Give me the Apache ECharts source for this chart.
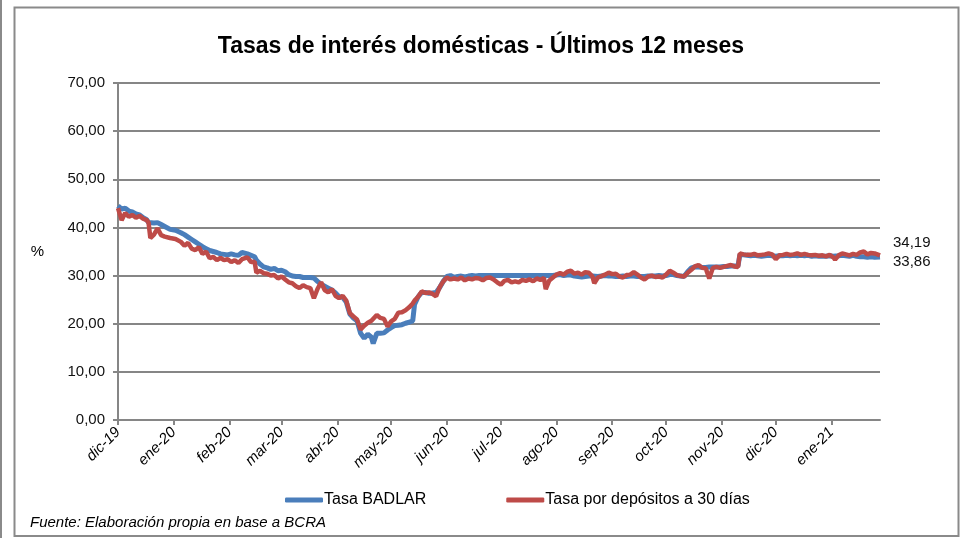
<!DOCTYPE html>
<html>
<head>
<meta charset="utf-8">
<script src="https://cdn.jsdelivr.net/npm/echarts@6/dist/echarts.min.js"></script>
<style>
  html, body { margin: 0; padding: 0; background: #fff; }
  #chart { width: 962px; height: 538px; }
</style>
</head>
<body>
<div id="chart"></div>
<script>
// dias desde 01/12/2019
var days = [0, 2, 4, 6, 8, 10, 12, 14, 16, 17, 18, 20, 22, 24, 26, 29, 32, 35, 37, 39,
  41, 43, 45, 47, 49, 51, 53, 55, 57, 59, 61, 63, 65, 67, 69, 70, 72, 74, 76, 77,
  79, 81, 83, 85, 87, 89, 91, 93, 95, 97, 99, 101, 103, 105, 107, 109, 111, 113, 115, 117,
  119, 121, 123, 125, 127, 129, 131, 133, 135, 137, 139, 141, 142, 144, 146, 148, 150, 152, 154, 156,
  158, 160, 162, 164, 165, 167, 169, 171, 173, 175, 177, 179, 181, 183, 185, 187, 189, 191, 193, 195,
  197, 199, 201, 203, 205, 207, 209, 211, 213, 215, 217, 219, 221, 223, 225, 227, 229, 231, 233, 235,
  237, 238, 240, 242, 244, 246, 248, 250, 252, 254, 256, 258, 260, 262, 264, 265, 267, 269, 271, 273,
  275, 277, 279, 281, 283, 285, 287, 289, 291, 293, 295, 297, 299, 301, 303, 305, 307, 309, 311, 313,
  315, 317, 319, 321, 323, 325, 327, 329, 331, 333, 335, 337, 339, 341, 343, 345, 346, 348, 350, 352,
  354, 356, 358, 360, 362, 364, 366, 368, 370, 372, 374, 376, 378, 380, 382, 384, 386, 388, 390, 392,
  394, 396, 398, 399, 401, 403, 405, 407, 409, 411, 413, 415, 417, 419, 421, 424];

var badlar = [44.5, 43.8, 44.0, 43.4, 43.2, 42.8, 42.6, 42.0, 41.6, 41.0, 40.8, 40.9, 41.0, 40.6, 40.2, 39.6, 39.4, 38.9, 38.5, 38.0,
  37.5, 37.0, 36.5, 36.0, 35.6, 35.2, 35.0, 34.8, 34.5, 34.4, 34.3, 34.5, 34.3, 34.2, 34.8, 35.2, 34.5, 34.2, 33.9, 33.2,
  32.4, 31.8, 31.6, 31.3, 31.5, 31.0, 31.1, 30.8, 30.2, 29.9, 29.8, 29.8, 29.6, 29.6, 29.6, 29.5, 28.8, 28.2, 27.8, 27.4,
  27.0, 26.4, 25.6, 25.5, 24.5, 22.0, 21.2, 20.6, 18.0, 17.0, 17.8, 17.2, 15.9, 18.0, 18.0, 18.1, 18.7, 19.2, 19.6, 19.7,
  19.8, 20.1, 20.3, 20.6, 24.0, 25.6, 26.5, 26.5, 26.3, 26.4, 26.5, 27.5, 28.8, 29.8, 30.0, 29.6, 29.8, 29.9, 29.7, 29.9,
  30.0, 29.9, 30.0, 30.0, 30.0, 30.0, 30.0, 30.0, 30.0, 30.0, 30.0, 30.0, 30.0, 30.0, 30.0, 30.0, 30.0, 30.0, 30.0, 30.0,
  30.0, 30.0, 30.0, 30.0, 30.1, 30.2, 30.0, 30.1, 30.1, 29.9, 29.8, 29.7, 29.8, 29.9, 29.9, 29.8, 29.8, 29.9, 30.0, 29.9,
  29.9, 29.8, 29.8, 29.9, 29.8, 29.9, 29.9, 29.8, 29.8, 29.8, 29.9, 29.9, 29.9, 30.0, 29.9, 30.0, 30.2, 30.2, 30.0, 29.9,
  29.8, 30.8, 31.6, 31.8, 31.8, 31.7, 31.7, 31.8, 31.8, 31.8, 31.8, 31.9, 31.9, 32.0, 32.0, 32.0, 34.3, 34.3, 34.2, 34.1,
  34.2, 34.1, 34.0, 34.1, 34.2, 34.1, 34.0, 34.1, 34.1, 34.2, 34.1, 34.2, 34.1, 34.2, 34.1, 34.2, 34.0, 34.1, 34.0, 34.0,
  34.0, 34.1, 34.0, 34.0, 34.1, 34.2, 34.1, 34.0, 34.2, 34.0, 33.9, 33.9, 33.8, 33.9, 33.8, 33.86];

var depositos30 = [44.0, 41.5, 43.0, 42.2, 42.6, 42.0, 42.4, 41.8, 41.5, 41.0, 37.8, 38.5, 39.8, 38.4, 38.1, 37.8, 37.6, 37.0, 36.2, 36.8,
  35.6, 35.3, 35.9, 34.5, 35.0, 33.6, 33.9, 33.2, 33.7, 33.2, 33.4, 32.8, 33.2, 32.6, 33.4, 33.0, 33.8, 32.8, 32.9, 30.6,
  31.0, 30.5, 30.4, 30.0, 30.1, 29.4, 29.8, 29.2, 28.6, 28.4, 27.8, 27.4, 28.0, 27.6, 27.4, 25.3, 27.2, 28.6, 27.0, 26.5,
  27.2, 25.8, 25.3, 25.8, 24.8, 22.2, 21.5, 20.9, 18.8, 19.6, 20.2, 20.6, 20.9, 21.8, 21.2, 21.0, 19.4, 20.5, 21.0, 22.3,
  22.4, 22.8, 23.4, 24.2, 24.8, 25.6, 26.7, 26.4, 26.5, 26.2, 25.7, 27.6, 28.8, 29.6, 29.2, 29.4, 29.2, 29.6, 29.0, 29.4,
  29.2, 29.5, 29.4, 29.0, 29.5, 29.6, 29.2, 28.6, 28.1, 28.9, 29.1, 28.6, 28.8, 28.6, 29.1, 28.9, 29.2, 28.8, 29.4, 29.1,
  29.5, 27.2, 29.0, 29.6, 30.2, 30.5, 30.2, 30.8, 31.0, 30.4, 30.6, 30.2, 30.7, 30.6, 29.8, 28.4, 29.6, 29.9, 30.2, 30.6,
  30.3, 30.4, 29.8, 29.6, 30.1, 30.2, 30.7, 30.2, 29.6, 29.2, 29.8, 30.0, 29.7, 29.8, 29.6, 30.2, 31.0, 30.6, 30.1, 29.9,
  29.8, 30.6, 31.2, 31.9, 32.2, 31.6, 31.5, 29.4, 31.6, 31.8, 31.6, 31.8, 32.0, 32.2, 31.9, 31.8, 34.6, 34.4, 34.3, 34.3,
  34.5, 34.2, 34.3, 34.4, 34.6, 34.4, 33.4, 34.2, 34.3, 34.5, 34.3, 34.4, 34.6, 34.3, 34.5, 34.3, 34.2, 34.3, 34.1, 34.2,
  34.0, 34.3, 33.8, 33.3, 34.2, 34.6, 34.4, 34.2, 34.5, 34.3, 34.8, 35.0, 34.4, 34.7, 34.6, 34.19];

// inicio de cada mes y su etiqueta
var monthDays = [0, 31, 62, 91, 122, 152, 183, 213, 244, 275, 305, 336, 366, 397];
var monthLabels = ['dic-19', 'ene-20', 'feb-20', 'mar-20', 'abr-20', 'may-20', 'jun-20',
  'jul-20', 'ago-20', 'sep-20', 'oct-20', 'nov-20', 'dic-20', 'ene-21'];

var sans = "'Liberation Sans', Arial, sans-serif";
var fmt = function (v) { return v.toFixed(2).replace('.', ','); };

var chart = echarts.init(document.getElementById('chart'));

var option = {
  backgroundColor: '#fff',
  animation: false,
  title: {
    text: 'Tasas de interés domésticas - Últimos 12 meses',
    left: 'center',
    top: 30,
    textStyle: { fontFamily: sans, fontSize: 23, fontWeight: 'bold', color: '#000' }
  },
  legend: {
    left: 280,
    top: 487,
    itemGap: 80,
    itemWidth: 38,
    itemHeight: 5,
    icon: 'roundRect',
    textStyle: { fontFamily: sans, fontSize: 16, color: '#000', padding: [0, 0, 0, -4] },
    data: ['Tasa BADLAR', 'Tasa por depósitos a 30 días']
  },
  grid: { left: 118, top: 83, right: 82, bottom: 118 },
  xAxis: {
    type: 'value',
    min: 0,
    max: 424,
    splitLine: { show: false },
    axisLine: { lineStyle: { color: '#868686', width: 2 } },
    axisTick: { show: true, customValues: monthDays, length: 5, lineStyle: { color: '#868686', width: 2 } },
    axisLabel: {
      customValues: monthDays,
      rotate: 45,
      margin: 10,
      fontFamily: sans,
      fontStyle: 'italic',
      fontSize: 15,
      color: '#000',
      formatter: function (v) { return monthLabels[monthDays.indexOf(Math.round(v))] || ''; }
    }
  },
  yAxis: {
    type: 'value',
    min: 0,
    max: 70,
    interval: 10,
    name: '%',
    nameLocation: 'middle',
    nameRotate: 0,
    nameGap: 74,
    nameTextStyle: { fontFamily: sans, fontSize: 15, color: '#000' },
    axisLine: { show: true, lineStyle: { color: '#868686', width: 2 } },
    axisTick: { show: true, length: 5, lineStyle: { color: '#868686', width: 2 } },
    splitLine: { lineStyle: { color: '#868686', width: 2 } },
    axisLabel: {
      fontFamily: sans,
      fontSize: 15,
      color: '#111',
      margin: 13,
      formatter: fmt
    }
  },
  series: [
    {
      name: 'Tasa BADLAR',
      type: 'line',
      showSymbol: false,
      color: '#4a7ebb',
      lineStyle: { width: 5, color: '#4a7ebb' },
      data: days.map(function (d, i) { return [d, badlar[i]]; }),
      endLabel: {
        show: true,
        distance: 13,
        offset: [0, 5],
        fontFamily: sans,
        fontSize: 15,
        color: '#111',
        formatter: function (p) { return fmt(p.value[1]); }
      }
    },
    {
      name: 'Tasa por depósitos a 30 días',
      type: 'line',
      showSymbol: false,
      color: '#be4b48',
      lineStyle: { width: 4.5, color: '#be4b48' },
      data: days.map(function (d, i) { return [d, depositos30[i]]; }),
      endLabel: {
        show: true,
        distance: 13,
        offset: [0, -13],
        fontFamily: sans,
        fontSize: 15,
        color: '#111',
        formatter: function (p) { return fmt(p.value[1]); }
      }
    }
  ],
  graphic: [
    {
      type: 'rect',
      shape: { x: 14.5, y: 7.5, width: 944, height: 528.5 },
      style: { fill: 'none', stroke: '#8a8a8a', lineWidth: 2 },
      silent: true
    },
    {
      type: 'line',
      shape: { x1: 1, y1: 0, x2: 1, y2: 538 },
      style: { stroke: '#8a8a8a', lineWidth: 2 },
      silent: true
    },
    {
      type: 'text',
      left: 30,
      top: 515,
      style: {
        text: 'Fuente: Elaboración propia en base a BCRA',
        fontFamily: sans,
        fontStyle: 'italic',
        fontSize: 15,
        fill: '#000'
      }
    }
  ]
};

chart.setOption(option);
</script>
</body>
</html>
